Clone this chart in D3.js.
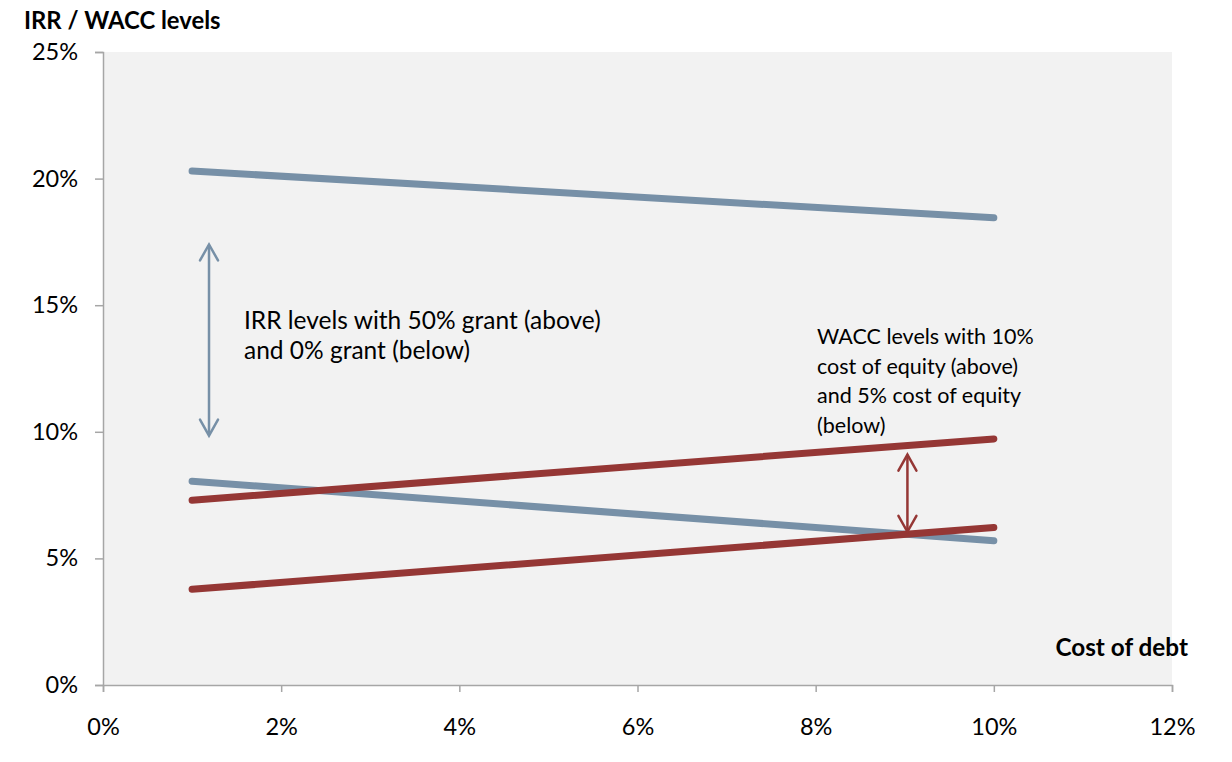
<!DOCTYPE html>
<html>
<head>
<meta charset="utf-8">
<script src="https://cdn.jsdelivr.net/npm/d3@7"></script>
<style>
  body { margin: 0; background: #fff; }
  svg { font-family: Lato, "Open Sans", sans-serif; }
</style>
</head>
<body>
<div id="chart"></div>
<script>
// cost of debt (%) at which each series is shown
const costOfDebt = [1, 10];
// IRR / WACC levels (%)
const irrGrant50 = [20.3, 18.45];
const irrGrant0 = [8.05, 5.7];
const wacc10 = [7.3, 9.72];
const wacc5 = [3.78, 6.22];

const xTicks = [0, 2, 4, 6, 8, 10, 12];
const yTicks = [0, 5, 10, 15, 20, 25];

const series = [
  { name: "IRR 50% grant", values: irrGrant50, color: "#7790a7" },
  { name: "IRR 0% grant", values: irrGrant0, color: "#7790a7" },
  { name: "WACC 10% equity", values: wacc10, color: "#953735" },
  { name: "WACC 5% equity", values: wacc5, color: "#953735" }
];

const width = 1232, height = 762;
const margin = { top: 52, right: 60, bottom: 77, left: 103 };

const svg = d3.select("#chart").append("svg")
  .attr("width", width)
  .attr("height", height);

const x = d3.scaleLinear().domain([0, 12]).range([margin.left, width - margin.right]);
const y = d3.scaleLinear().domain([0, 25]).range([height - margin.bottom, margin.top]);

// plot area
svg.append("rect")
  .attr("x", x(0)).attr("y", y(25))
  .attr("width", x(12) - x(0)).attr("height", y(0) - y(25))
  .attr("fill", "#f2f2f2");

const axisColor = "#a6a6a6";

const yAxis = svg.append("g")
  .attr("transform", `translate(${x(0)},0)`)
  .call(d3.axisLeft(y).tickValues(yTicks).tickFormat(d => d + "%").tickSize(8).tickPadding(17));

const xAxis = svg.append("g")
  .attr("transform", `translate(0,${y(0)})`)
  .call(d3.axisBottom(x).tickValues(xTicks).tickFormat(d => d + "%").tickSize(7).tickPadding(26));

[xAxis, yAxis].forEach(g => {
  g.select(".domain").attr("stroke", axisColor).attr("stroke-width", 1.5);
  g.selectAll(".tick line").attr("stroke", axisColor).attr("stroke-width", 1.5);
  g.selectAll(".tick text").attr("fill", "#000").style("font-size", "23.5px")
    .style("font-family", "Lato, 'Open Sans', sans-serif");
});

// lines
const line = d3.line()
  .x((d, i) => x(costOfDebt[i]))
  .y(d => y(d));

svg.selectAll(".series")
  .data(series)
  .enter().append("path")
    .attr("class", "series")
    .attr("d", d => line(d.values))
    .attr("fill", "none")
    .attr("stroke", d => d.color)
    .attr("stroke-width", 7)
    .attr("stroke-linecap", "round");

// double-headed arrows (data coordinates)
function arrow(xv, y1, y2, color) {
  const ax = x(xv), top = y(y1), bot = y(y2);
  const g = svg.append("g")
    .attr("stroke", color).attr("stroke-width", 2.5)
    .attr("fill", "none").attr("stroke-linecap", "round");
  g.append("line").attr("x1", ax).attr("x2", ax).attr("y1", top + 1).attr("y2", bot - 1);
  g.append("path").attr("d", `M${ax - 9},${top + 16} L${ax},${top} L${ax + 9},${top + 16}`);
  g.append("path").attr("d", `M${ax - 9},${bot - 16} L${ax},${bot} L${ax + 9},${bot - 16}`);
}
arrow(1.19, 17.4, 9.85, "#7790a7");
arrow(9.03, 9.1, 6.05, "#953735");

// annotations
const irrNote = svg.append("text")
  .attr("x", 244).attr("y", 329)
  .style("font-size", "24.5px").attr("fill", "#000");
irrNote.append("tspan").attr("x", 244).text("IRR levels with 50% grant (above)");
irrNote.append("tspan").attr("x", 244).attr("dy", 30).text("and 0% grant (below)");

const waccNote = svg.append("text")
  .attr("x", 817).attr("y", 344)
  .style("font-size", "21.5px").attr("fill", "#000");
["WACC levels with 10%", "cost of equity (above)", "and 5% cost of equity", "(below)"]
  .forEach((t, i) => waccNote.append("tspan").attr("x", 817).attr("dy", i ? 29.5 : 0).text(t));

// titles
svg.append("text")
  .attr("x", 24).attr("y", 29)
  .style("font-size", "23.8px").style("font-weight", "bold")
  .text("IRR / WACC levels");

svg.append("text")
  .attr("x", 1188).attr("y", 656)
  .attr("text-anchor", "end")
  .style("font-size", "24.3px").style("font-weight", "bold")
  .text("Cost of debt");
</script>
</body>
</html>
